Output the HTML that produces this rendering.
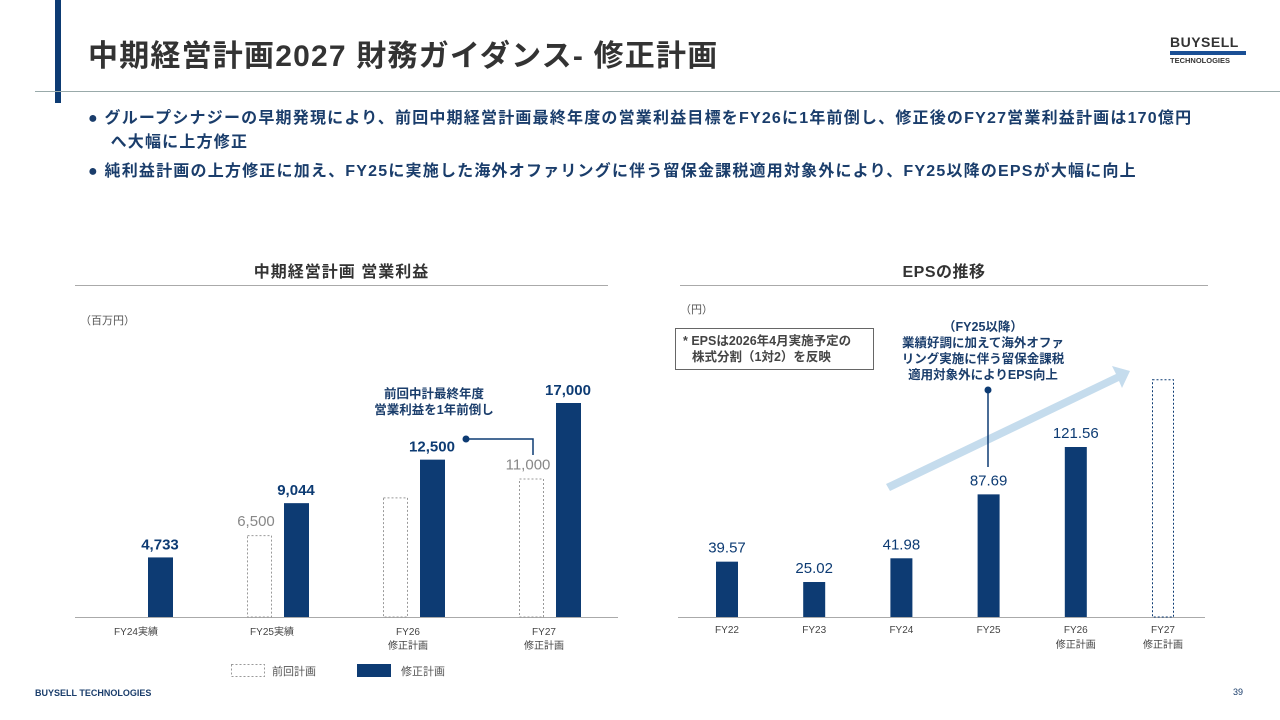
<!DOCTYPE html>
<html><head><meta charset="utf-8">
<style>
body{margin:0;width:1280px;height:720px;background:#fff;font-family:"Liberation Sans","Noto Sans CJK JP",sans-serif;position:relative;overflow:hidden}
.a{position:absolute;white-space:nowrap}
</style></head><body>
<div class="a" style="left:55px;top:0;width:6px;height:103px;background:#0d3b73"></div>
<div class="a" style="left:88px;top:31px;font-size:30px;font-weight:bold;color:#333;letter-spacing:1.2px">中期経営計画2027 財務ガイダンス- 修正計画</div>
<div class="a" style="left:35px;top:91px;width:1245px;height:1px;background:#9aa"></div>
<div class="a" style="left:1170px;top:34px;width:76px">
 <div style="font-size:14px;font-weight:bold;color:#333;letter-spacing:0.5px">BUYSELL</div>
 <div style="height:4px;background:#1a4f95;margin:1px 0"></div>
 <div style="font-size:7.5px;font-weight:bold;color:#333">TECHNOLOGIES</div>
</div>
<div class="a" style="left:88px;top:107px;font-size:16px;letter-spacing:1.2px;font-weight:bold;color:#1a3d6b;line-height:24px">● グループシナジーの早期発現により、前回中期経営計画最終年度の営業利益目標をFY26に1年前倒し、修正後のFY27営業利益計画は170億円<br>&nbsp;&nbsp;&nbsp;&nbsp;へ大幅に上方修正</div>
<div class="a" style="left:88px;top:160px;font-size:16px;letter-spacing:1.2px;font-weight:bold;color:#1a3d6b;line-height:24px">● 純利益計画の上方修正に加え、FY25に実施した海外オファリングに伴う留保金課税適用対象外により、FY25以降のEPSが大幅に向上</div>

<div class="a" style="left:75px;width:533px;top:258px;text-align:center;font-size:16px;letter-spacing:1px;font-weight:bold;color:#333">中期経営計画 営業利益</div>
<div class="a" style="left:75px;top:285px;width:533px;height:1px;background:#aaa"></div>
<div class="a" style="left:680px;width:528px;top:258px;text-align:center;font-size:16px;letter-spacing:0.5px;font-weight:bold;color:#333">EPSの推移</div>
<div class="a" style="left:680px;top:285px;width:528px;height:1px;background:#aaa"></div>

<svg class="a" style="left:0;top:0" width="1280" height="720" id="svg">
<text x="80" y="324" font-size="11" fill="#555">（百万円）</text>
<text x="680" y="313" font-size="11" fill="#555">（円）</text>
<rect x="675.5" y="328.5" width="198" height="41" fill="#fff" stroke="#666"/>
<text x="683" y="345" font-size="12.5" font-weight="bold" fill="#444">* EPSは2026年4月実施予定の</text>
<text x="692" y="361" font-size="12.5" font-weight="bold" fill="#444">株式分割（1対2）を反映</text>
<g><polygon points="886,484 1116,374 1112,366 1130,371 1122,388 1119,381 890,491" fill="#c5dced"/></g>
<g id="left"></g><g id="right"></g>
<g>
<text x="434" y="398" font-size="12.5" font-weight="bold" fill="#1a3d6b" text-anchor="middle">前回中計最終年度</text>
<text x="434" y="414" font-size="12.5" font-weight="bold" fill="#1a3d6b" text-anchor="middle">営業利益を1年前倒し</text>
<circle cx="466" cy="439" r="3.5" fill="#0d3b73"/>
<polyline points="466,439 533,439 533,455" fill="none" stroke="#0d3b73" stroke-width="1.5"/>
</g>
<g font-size="12.5" font-weight="bold" fill="#1a3d6b" text-anchor="middle">
<text x="983" y="331">（FY25以降）</text>
<text x="983" y="347">業績好調に加えて海外オファ</text>
<text x="983" y="363">リング実施に伴う留保金課税</text>
<text x="983" y="379">適用対象外によりEPS向上</text>
<circle cx="988" cy="390" r="3.5" fill="#0d3b73"/>
<line x1="988" y1="390" x2="988" y2="467" stroke="#0d3b73" stroke-width="1.5"/>
</g>
<g>
<rect x="231.5" y="664.5" width="33" height="12" fill="#fff" stroke="#999" stroke-dasharray="2,2"/>
<text x="272" y="675" font-size="11" fill="#555">前回計画</text>
<rect x="357" y="664" width="34" height="13" fill="#0d3b73"/>
<text x="401" y="675" font-size="11" fill="#555">修正計画</text>
</g>
</svg>
<div class="a" style="left:35px;top:688px;font-size:9px;font-weight:bold;color:#1a3d6b">BUYSELL TECHNOLOGIES</div>
<div class="a" style="left:1233px;top:687px;font-size:9px;color:#1a3d6b">39</div>
<script>
const opCats=["FY24実績","FY25実績","FY26|修正計画","FY27|修正計画"];
const opPrior=[null,6500,9500,11000];
const opRevised=[4733,9044,12500,17000];
const epsCats=["FY22","FY23","FY24","FY25","FY26|修正計画","FY27|修正計画"];
const epsValues=[39.57,25.02,41.98,87.69,121.56,null];
const epsPlan=[null,null,null,null,null,170];
const NS="http://www.w3.org/2000/svg";
function mk(p,t,a){const e=document.createElementNS(NS,t);for(const k in a)e.setAttribute(k,a[k]);p.appendChild(e);return e;}
const base=617;
const L=document.getElementById('left');
const ly=v=>base-v*214/17000, lx=i=>142+i*136;
let ax=mk(L,'line',{x1:75,x2:618,y1:base+0.5,y2:base+0.5,stroke:'#aaa'});


opCats.forEach((c,i)=>{
 const cx=lx(i);
 if(opPrior[i]!=null){
  const r=mk(L,'rect',{x:cx-30.5,y:ly(opPrior[i])+0.5,width:24,height:base-ly(opPrior[i])-0.5,fill:'#fff',stroke:'#999','stroke-dasharray':'2,2'});
  
  
  if(i!==2){const t=mk(L,'text',{x:cx-22,y:ly(opPrior[i])-9,'font-size':15,fill:'#888','text-anchor':'middle'});t.textContent=opPrior[i].toLocaleString('en-US');
  
  }
 }
 const r=mk(L,'rect',{x:cx+6,y:ly(opRevised[i]),width:25,height:base-ly(opRevised[i]),fill:'#0d3b73'});
 
 
 const t=mk(L,'text',{x:cx+18,y:ly(opRevised[i])-8,'font-size':15,'font-weight':'bold',fill:'#0d3b73','text-anchor':'middle'});t.textContent=opRevised[i].toLocaleString('en-US');
 
 
 c.split('|').forEach((s,j)=>{const tt=mk(L,'text',{x:cx-6,y:635+j*14,'font-size':10,fill:'#444','text-anchor':'middle'});tt.textContent=s;
 
 });
});
const R=document.getElementById('right');
const ry=v=>base-v*170/121.56, rx=i=>727+i*87.2;
ax=mk(R,'line',{x1:678,x2:1205,y1:base+0.5,y2:base+0.5,stroke:'#aaa'});


epsCats.forEach((c,i)=>{
 const cx=rx(i);
 if(epsValues[i]!=null){
  const r=mk(R,'rect',{x:cx-11,y:ry(epsValues[i]),width:22,height:base-ry(epsValues[i]),fill:'#0d3b73'});
  
  
  const t=mk(R,'text',{x:cx,y:ry(epsValues[i])-9,'font-size':15,fill:'#0d3b73','text-anchor':'middle'});t.textContent=epsValues[i].toFixed(2);
  
  
 }
 if(epsPlan[i]!=null){
  const r=mk(R,'rect',{x:cx-10.5,y:ry(epsPlan[i])+0.5,width:21,height:base-ry(epsPlan[i])-0.5,fill:'#fff',stroke:'#0d3b73','stroke-dasharray':'2,2'});
  
  
 }
 c.split('|').forEach((s,j)=>{const tt=mk(R,'text',{x:cx,y:633+j*15,'font-size':10,fill:'#444','text-anchor':'middle'});tt.textContent=s;
 
 });
});
</script>
</body></html>
